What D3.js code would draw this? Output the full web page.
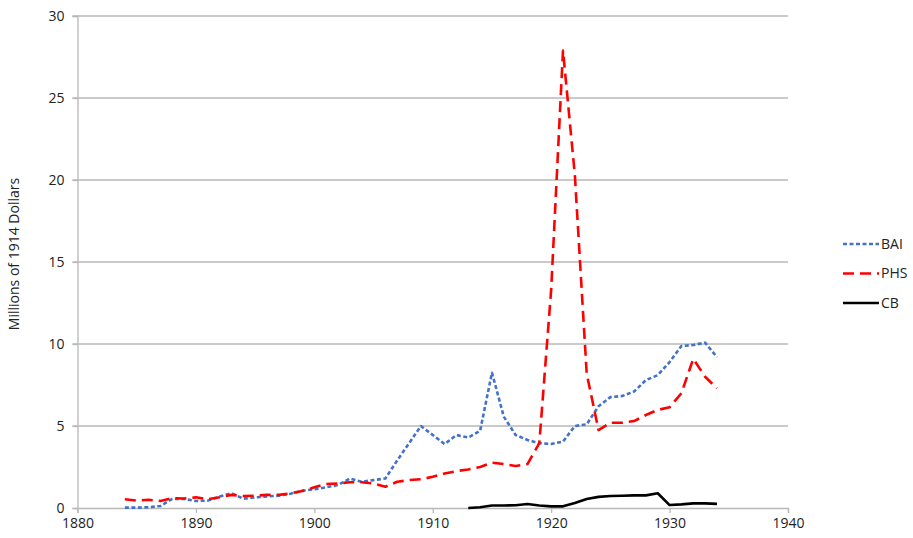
<!DOCTYPE html>
<html>
<head>
<meta charset="utf-8">
<script src="https://d3js.org/d3.v7.min.js"></script>
<style>
  body { margin: 0; background: #fff; }
  text { font-family: "Open Sans", "Liberation Sans", sans-serif; fill: #222; }
</style>
</head>
<body>
<div id="chart"></div>
<script>
// years with values
var years = d3.range(1884, 1935);
var cbYears = d3.range(1913, 1935);

// BAI, 1884-1934
var bai = [0.02, 0.02, 0.05, 0.12, 0.55, 0.55, 0.43, 0.45, 0.7, 0.9,
           0.57, 0.65, 0.7, 0.75, 0.87, 1.06, 1.14, 1.26, 1.4, 1.8,
           1.6, 1.7, 1.8, 2.9, 3.95, 5.0, 4.45, 3.9, 4.45, 4.3,
           4.7, 8.25, 5.57, 4.45, 4.15, 3.95, 3.9, 4.05, 5.0, 5.1,
           6.2, 6.76, 6.83, 7.1, 7.8, 8.1, 8.9, 9.88, 9.94, 10.08, 9.2];
// PHS, 1884-1934
var phs = [0.53, 0.45, 0.5, 0.43, 0.6, 0.58, 0.65, 0.53, 0.65, 0.8,
           0.73, 0.75, 0.8, 0.8, 0.9, 1.04, 1.26, 1.46, 1.5, 1.57,
           1.57, 1.5, 1.3, 1.6, 1.7, 1.75, 1.9, 2.1, 2.25, 2.35,
           2.5, 2.76, 2.68, 2.56, 2.68, 3.96, 13.3, 27.9, 20.3, 8.2,
           4.75, 5.2, 5.2, 5.3, 5.67, 5.98, 6.14, 7.0, 9.1, 8.0, 7.3];
// CB, 1913-1934
var cb = [0.0, 0.05, 0.15, 0.15, 0.17, 0.24, 0.15, 0.1, 0.1, 0.3,
          0.55, 0.68, 0.73, 0.75, 0.77, 0.77, 0.9, 0.18, 0.22, 0.28, 0.28, 0.25];

var xTicks = [1880, 1890, 1900, 1910, 1920, 1930, 1940];
var yTicks = [0, 5, 10, 15, 20, 25, 30];

var series = [
  {name: "BAI", xs: years, vals: bai, color: "#4472C4", dash: "4,2.5"},
  {name: "PHS", xs: years, vals: phs, color: "#FF0000", dash: "11,6"},
  {name: "CB", xs: cbYears, vals: cb, color: "#000000", dash: null}
];

var W = 913, H = 538;
var margin = {top: 16, right: 125, bottom: 30, left: 77.5};

var svg = d3.select("#chart").append("svg")
  .attr("width", W)
  .attr("height", H);

var x = d3.scaleLinear().domain([1880, 1940]).range([margin.left, W - margin.right]);
var y = d3.scaleLinear().domain([0, 30]).range([H - margin.bottom, margin.top]);

// gridlines
svg.append("g")
  .selectAll("line")
  .data(yTicks.filter(function(d) { return d > 0; }))
  .enter().append("line")
  .attr("x1", x(1880) - 5)
  .attr("x2", x(1940))
  .attr("y1", function(d) { return y(d); })
  .attr("y2", function(d) { return y(d); })
  .attr("stroke", "#b8b8b8")
  .attr("stroke-width", 1.3);

// y axis
var yAxis = svg.append("g")
  .attr("transform", "translate(" + x(1880) + ",0)")
  .call(d3.axisLeft(y).tickValues(yTicks).tickSize(5).tickPadding(8));
yAxis.selectAll("path, line").attr("stroke", "#b8b8b8").attr("stroke-width", 1.3);
yAxis.selectAll("text").style("font-size", "14px").attr("fill", "#222");

// x axis
var xAxis = svg.append("g")
  .attr("transform", "translate(0," + y(0) + ")")
  .call(d3.axisBottom(x).tickValues(xTicks).tickFormat(d3.format("d")).tickSize(5).tickPadding(5));
xAxis.selectAll("path, line").attr("stroke", "#b8b8b8").attr("stroke-width", 1.3);
xAxis.selectAll("text").style("font-size", "14px").attr("fill", "#222");

// y title
svg.append("text")
  .attr("transform", "translate(19,254) rotate(-90)")
  .attr("text-anchor", "middle")
  .style("font-size", "14px")
  .text("Millions of 1914 Dollars");

// lines
var line = d3.line()
  .x(function(d) { return x(d[0]); })
  .y(function(d) { return y(d[1]); });

series.forEach(function(s) {
  svg.append("path")
    .datum(d3.zip(s.xs, s.vals))
    .attr("d", line)
    .attr("fill", "none")
    .attr("stroke", s.color)
    .attr("stroke-width", 2.6)
    .attr("stroke-linejoin", "round")
    .attr("stroke-dasharray", s.dash);
});

// legend
var legend = svg.append("g").attr("transform", "translate(843,244)");
series.forEach(function(s, i) {
  var g = legend.append("g").attr("transform", "translate(0," + (i * 29.5) + ")");
  g.append("line")
    .attr("x1", 0).attr("x2", 36)
    .attr("stroke", s.color)
    .attr("stroke-width", 2.6)
    .attr("stroke-dasharray", s.dash);
  g.append("text")
    .attr("x", 38)
    .attr("dy", "0.35em")
    .style("font-size", "14px")
    .text(s.name);
});
</script>
</body>
</html>
